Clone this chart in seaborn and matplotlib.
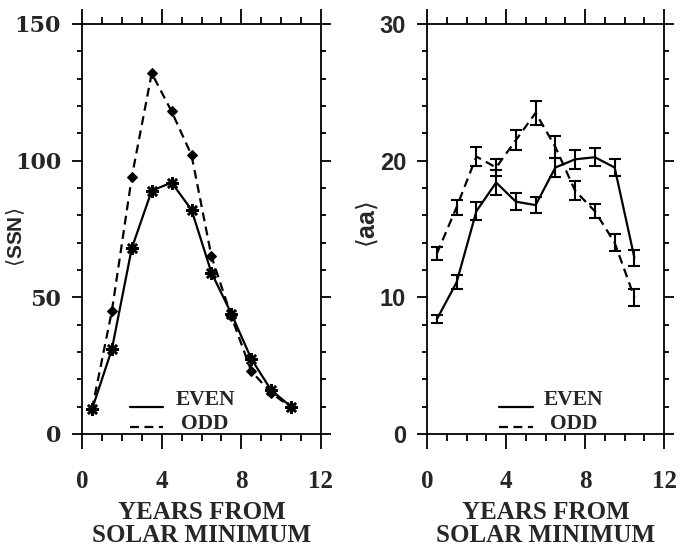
import numpy as np
import pandas as pd
import matplotlib
matplotlib.use("Agg")
import matplotlib.pyplot as plt
from matplotlib.ticker import MultipleLocator
import seaborn as sns

# ---------------- data ----------------
years = [0.5, 1.5, 2.5, 3.5, 4.5, 5.5, 6.5, 7.5, 8.5, 9.5, 10.5]
ssn_even = [9, 31, 68, 89, 92, 82, 59, 44, 27.5, 16, 10]
ssn_odd = [9, 45, 94, 132, 118, 102, 65, 43, 23, 15, 9.7]
aa_even = [8.4, 11.1, 16.3, 18.4, 17.0, 16.75, 19.5, 20.1, 20.25, 19.5, 12.9]
aa_even_err = [0.3, 0.5, 0.65, 0.9, 0.6, 0.6, 0.7, 0.7, 0.65, 0.6, 0.6]
aa_odd = [13.2, 16.6, 20.3, 19.5, 21.5, 23.5, 21.0, 17.8, 16.3, 14.0, 10.0]
aa_odd_err = [0.45, 0.55, 0.7, 0.6, 0.75, 0.9, 0.8, 0.7, 0.5, 0.6, 0.6]
xticks = [0, 4, 8, 12]
ssn_ticks = [0, 50, 100, 150]
aa_ticks = [0, 10, 20, 30]
legend_labels = ["EVEN", "ODD"]

sns.set_style("ticks")
plt.rcParams["font.family"] = ["DejaVu Serif"]

fig = plt.figure(figsize=(6.8, 5.53), dpi=100)
axL = fig.add_axes([82 / 680, 1 - 434 / 553, 239 / 680, 410 / 553])
axR = fig.add_axes([427 / 680, 1 - 434 / 553, 237 / 680, 410 / 553])

dash = (4, 2.5)
lw = 1.6

# left panel
sns.lineplot(x=years, y=ssn_even, ax=axL, color="black", lw=lw,
             marker=(8, 2, 0), markersize=9, markeredgewidth=1.8,
             markeredgecolor="black")
sns.lineplot(x=years, y=ssn_odd, ax=axL, color="black", lw=lw,
             marker="D", markersize=5.5, markeredgecolor="black",
             markerfacecolor="black", dashes=False, linestyle=(0, dash))

# right panel
sns.lineplot(x=years, y=aa_even, ax=axR, color="black", lw=lw)
sns.lineplot(x=years, y=aa_odd, ax=axR, color="black", lw=lw,
             linestyle=(0, dash))
axR.errorbar(years, aa_even, yerr=aa_even_err, fmt="none", ecolor="black",
             elinewidth=1.5, capsize=4, capthick=1.5)
axR.errorbar(years, aa_odd, yerr=aa_odd_err, fmt="none", ecolor="black",
             elinewidth=1.5, capsize=4, capthick=1.5)

for ax, ymax, yt, ymin_step, ytfont, ytsize, leg_x, leg_tx in (
        (axL, 150, ssn_ticks, 10, "DejaVu Serif", 16, (0.20, 0.34), 0.515),
        (axR, 30, aa_ticks, 2, "Liberation Sans", 17, (0.304, 0.447), 0.62)):
    ax.set_xlim(0, 12)
    ax.set_ylim(0, ymax)
    ax.set_xticks(xticks)
    ax.set_yticks(yt)
    ax.xaxis.set_minor_locator(MultipleLocator(1))
    ax.yaxis.set_minor_locator(MultipleLocator(ymin_step))
    for s in ax.spines.values():
        s.set_visible(True)
        s.set_linewidth(1.3)
        s.set_color("black")
    ax.tick_params(axis="x", which="major", direction="out", length=11,
                   width=1.3, top=True, bottom=True, pad=15, color="black")
    ax.tick_params(axis="x", which="minor", direction="out", length=5,
                   width=1.3, top=True, bottom=True, color="black")
    ax.tick_params(axis="y", which="major", direction="out", length=7,
                   width=1.3, left=True, right=True, pad=8, color="black")
    ax.tick_params(axis="y", which="minor", direction="out", length=3.5,
                   width=1.3, left=True, right=True, color="black")
    ax.set_xticklabels([str(t) for t in xticks], fontfamily="Liberation Serif",
                       fontweight="bold", fontsize=18)
    ax.set_yticklabels([str(t) for t in yt], fontfamily=ytfont,
                       fontweight="bold", fontsize=ytsize)
    ax.set_xlabel("YEARS FROM\nSOLAR MINIMUM", fontfamily="Liberation Serif",
                  fontweight="bold", fontsize=18, linespacing=1.02)
    ax.xaxis.set_label_coords(0.5, -0.163)

    # legend drawn inside the axes
    ax.plot(list(leg_x), [0.066, 0.066], transform=ax.transAxes,
            color="black", lw=lw)
    ax.plot(list(leg_x), [0.017, 0.017], transform=ax.transAxes,
            color="black", lw=lw, linestyle=(0, dash))
    ax.text(leg_tx, 0.070, legend_labels[0], transform=ax.transAxes,
            ha="center", va="baseline", fontfamily="Liberation Serif",
            fontweight="bold", fontsize=15.5)
    ax.text(leg_tx, 0.012, legend_labels[1], transform=ax.transAxes,
            ha="center", va="baseline", fontfamily="Liberation Serif",
            fontweight="bold", fontsize=15.5)

axL.set_ylabel(r"$\langle$SSN$\rangle$", fontfamily="Liberation Sans",
               fontweight="bold", fontsize=15)
axL.yaxis.set_label_coords(-0.230, 0.48)
axR.set_ylabel(r"$\langle$aa$\rangle$", fontfamily="Liberation Sans",
               fontweight="bold", fontsize=18)
axR.yaxis.set_label_coords(-0.198, 0.51)

fig.savefig("out.png", dpi=100, facecolor="white")
